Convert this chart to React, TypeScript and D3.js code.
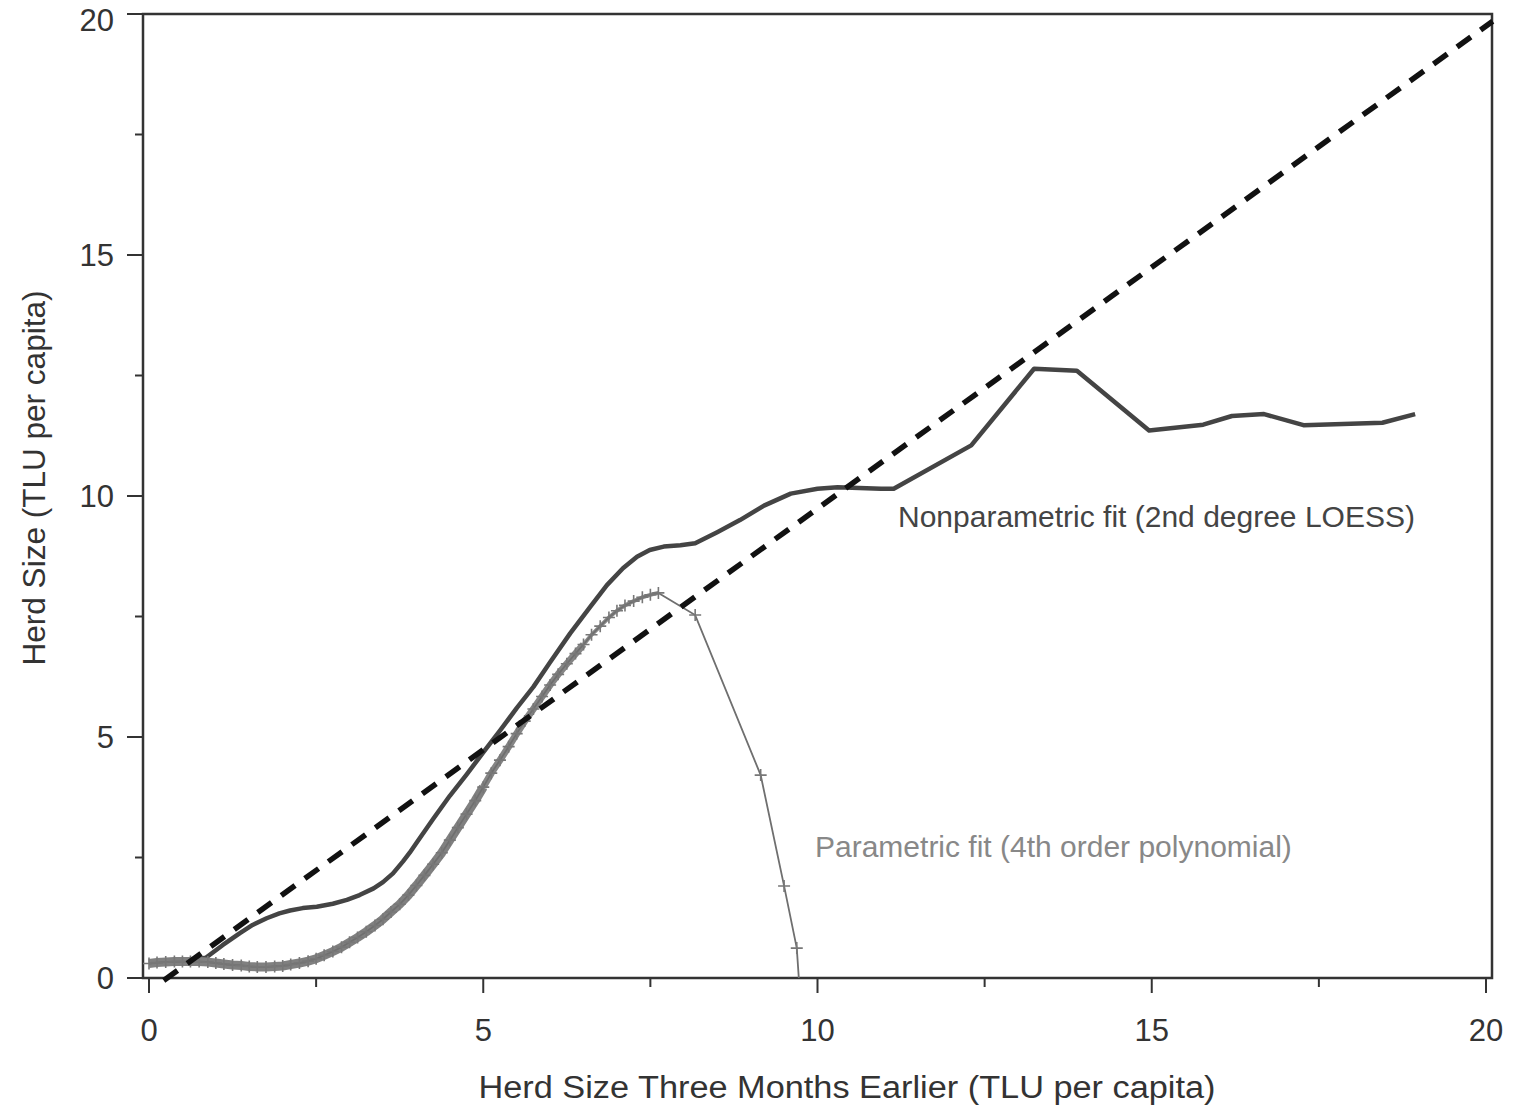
import React, { useRef, useEffect } from "react";
import * as d3 from "d3";

// Nonparametric fit (2nd degree LOESS)
const loessX = [0, 0.3, 0.6, 0.85, 1.1, 1.36, 1.55, 1.76, 1.95, 2.11, 2.3, 2.51, 2.75, 2.96, 3.15, 3.36, 3.5, 3.65, 3.8, 3.9, 4.0, 4.25, 4.5, 4.75, 5.0, 5.25, 5.5, 5.75, 6.0, 6.3, 6.6, 6.85, 7.09, 7.3, 7.49, 7.7, 7.95, 8.17, 8.5, 8.84, 9.2, 9.6, 10.0, 10.3, 10.95, 11.14, 12.3, 13.24, 13.88, 14.96, 15.77, 16.2, 16.68, 17.27, 18.45, 18.94];
const loessY = [0.31, 0.35, 0.36, 0.42, 0.68, 0.93, 1.1, 1.24, 1.34, 1.4, 1.45, 1.48, 1.54, 1.62, 1.72, 1.86, 1.99, 2.17, 2.42, 2.6, 2.8, 3.3, 3.78, 4.22, 4.68, 5.13, 5.6, 6.04, 6.55, 7.15, 7.7, 8.15, 8.5, 8.74, 8.88, 8.95, 8.98, 9.02, 9.25, 9.5, 9.8, 10.05, 10.15, 10.18, 10.15, 10.15, 11.05, 12.64, 12.6, 11.36, 11.48, 11.66, 11.7, 11.47, 11.52, 11.7];

// Parametric fit (4th order polynomial), predicted values at observed herd sizes
const polyX = [0, 0.12, 0.25, 0.38, 0.5, 0.62, 0.75, 0.88, 1.0, 1.12, 1.25, 1.38, 1.5, 1.62, 1.75, 1.88, 2.0, 2.12, 2.25, 2.38, 2.5, 2.62, 2.75, 2.88, 3.0, 3.12, 3.25, 3.38, 3.5, 3.62, 3.75, 3.88, 4.0, 4.12, 4.25, 4.38, 4.5, 4.62, 4.75, 4.88, 5.0, 5.12, 5.25, 5.38, 5.5, 5.62, 5.75, 5.88, 6.0, 6.12, 6.25, 6.38, 6.5, 6.62, 6.75, 6.88, 7.0, 7.12, 7.25, 7.38, 7.5, 7.62, 8.17, 9.15, 9.5, 9.69, 9.74];
const polyY = [0.3, 0.32, 0.33, 0.34, 0.34, 0.34, 0.34, 0.33, 0.31, 0.29, 0.27, 0.26, 0.24, 0.23, 0.23, 0.24, 0.25, 0.28, 0.31, 0.35, 0.4, 0.47, 0.55, 0.64, 0.74, 0.84, 0.96, 1.09, 1.22, 1.37, 1.53, 1.72, 1.92, 2.13, 2.36, 2.6, 2.86, 3.12, 3.4, 3.68, 3.96, 4.25, 4.52, 4.8, 5.07, 5.33, 5.58, 5.84, 6.08, 6.3, 6.52, 6.73, 6.92, 7.12, 7.3, 7.48, 7.62, 7.73, 7.82, 7.9, 7.95, 7.99, 7.53, 4.21, 1.91, 0.62, -0.4];

// 45 degree reference line
const refX = [0.22, 20.1];
const refY = [-0.05, 19.85];

const majorTicks = [0, 5, 10, 15, 20];
const minorTicks = [2.5, 7.5, 12.5, 17.5];

const App = () => {
  const ref = useRef(null);

  useEffect(() => {
    const width = 1514;
    const height = 1105;
    const left = 143, right = 1492, top = 14, bottom = 978;
    const font = "'Liberation Sans', Arial, sans-serif";

    const x = d3.scaleLinear().domain([0, 20]).range([149, 1486]);
    const y = d3.scaleLinear().domain([0, 20]).range([978, 14]);

    const root = d3.select(ref.current);
    root.selectAll("*").remove();
    const svg = root
      .append("svg")
      .attr("width", width)
      .attr("height", height)
      .style("position", "absolute")
      .style("left", 0)
      .style("top", 0)
      .style("background", "#fff");

    svg.append("defs").append("clipPath").attr("id", "plot")
      .append("rect").attr("x", left).attr("y", top)
      .attr("width", right - left).attr("height", bottom - top);

    const axisColor = "#333";
    // frame
    svg.append("path")
      .attr("d", `M${left},${top}V${bottom}H${right}V${top}Z`)
      .attr("fill", "none").attr("stroke", axisColor).attr("stroke-width", 2.5);

    // x ticks
    majorTicks.forEach((t) => {
      svg.append("line").attr("x1", x(t)).attr("x2", x(t))
        .attr("y1", bottom).attr("y2", bottom + 15)
        .attr("stroke", axisColor).attr("stroke-width", 2);
      svg.append("text").attr("x", x(t)).attr("y", 1041)
        .attr("text-anchor", "middle").attr("font-family", font)
        .attr("font-size", 31).attr("fill", "#333").text(t);
    });
    minorTicks.forEach((t) => {
      svg.append("line").attr("x1", x(t)).attr("x2", x(t))
        .attr("y1", bottom).attr("y2", bottom + 9)
        .attr("stroke", axisColor).attr("stroke-width", 2);
    });
    // y ticks
    majorTicks.forEach((t) => {
      svg.append("line").attr("x1", left - 16).attr("x2", left)
        .attr("y1", y(t)).attr("y2", y(t))
        .attr("stroke", axisColor).attr("stroke-width", 2);
      svg.append("text").attr("x", 114).attr("y", t === 20 ? 31 : y(t) + 11)
        .attr("text-anchor", "end").attr("font-family", font)
        .attr("font-size", 31).attr("fill", "#333").text(t);
    });
    minorTicks.forEach((t) => {
      svg.append("line").attr("x1", left - 8).attr("x2", left)
        .attr("y1", y(t)).attr("y2", y(t))
        .attr("stroke", axisColor).attr("stroke-width", 2);
    });

    // axis titles
    svg.append("text").attr("x", 847).attr("y", 1098)
      .attr("text-anchor", "middle").attr("font-family", font)
      .attr("font-size", 31).attr("fill", "#333")
      .attr("textLength", 737).attr("lengthAdjust", "spacingAndGlyphs")
      .text("Herd Size Three Months Earlier (TLU per capita)");
    svg.append("text")
      .attr("transform", "translate(45,478) rotate(-90)")
      .attr("text-anchor", "middle").attr("font-family", font)
      .attr("font-size", 31).attr("fill", "#333")
      .attr("textLength", 375).attr("lengthAdjust", "spacingAndGlyphs")
      .text("Herd Size (TLU per capita)");

    const plot = svg.append("g").attr("clip-path", "url(#plot)");
    const line = d3.line().x((d) => x(d[0])).y((d) => y(d[1]));

    // nonparametric fit
    const loessPts = loessX.map((v, i) => [v, loessY[i]]);
    plot.append("path").attr("d", line(loessPts))
      .attr("fill", "none").attr("stroke", "#444").attr("stroke-width", 4.5)
      .attr("stroke-linejoin", "round");

    // parametric fit: dense markers overlap into a band
    const polyPts = polyX.map((v, i) => [v, polyY[i]]);
    plot.append("path").attr("d", line(polyPts.filter((d) => d[0] <= 5.0)))
      .attr("fill", "none").attr("stroke", "#808080").attr("stroke-width", 9)
      .attr("stroke-linejoin", "round");
    plot.append("path").attr("d", line(polyPts.filter((d) => d[0] >= 5.0 && d[0] <= 6.5)))
      .attr("fill", "none").attr("stroke", "#858585").attr("stroke-width", 7)
      .attr("stroke-linejoin", "round");
    plot.append("path").attr("d", line(polyPts.filter((d) => d[0] >= 6.5 && d[0] <= 7.62)))
      .attr("fill", "none").attr("stroke", "#8a8a8a").attr("stroke-width", 4)
      .attr("stroke-linejoin", "round");
    plot.append("path").attr("d", line(polyPts))
      .attr("fill", "none").attr("stroke", "#6f6f6f").attr("stroke-width", 1.8);
    plot.selectAll(".mk").data(polyPts).enter().append("path")
      .attr("transform", (d) => `translate(${x(d[0])},${y(d[1])})`)
      .attr("d", "M-6,0H6M0,-6V6")
      .attr("fill", "none").attr("stroke", "#777").attr("stroke-width", 1.6);

    // 45 degree line
    svg.append("path").attr("d", line(refX.map((v, i) => [v, refY[i]])))
      .attr("fill", "none").attr("stroke", "#111").attr("stroke-width", 5.5)
      .attr("stroke-dasharray", "17 12");

    // labels
    svg.append("text").attr("x", 898).attr("y", 527)
      .attr("font-family", font).attr("font-size", 30).attr("fill", "#444")
      .text("Nonparametric fit (2nd degree LOESS)");
    svg.append("text").attr("x", 815).attr("y", 857)
      .attr("font-family", font).attr("font-size", 30).attr("fill", "#888")
      .text("Parametric fit (4th order polynomial)");
  }, []);

  return <div ref={ref}></div>;
};

export default App;
